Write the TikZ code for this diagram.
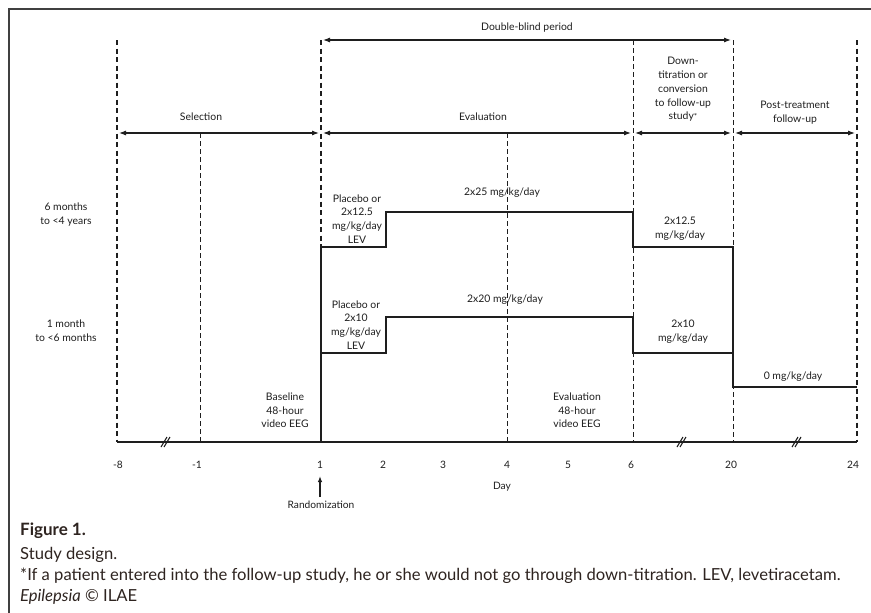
\documentclass[tikz,border=0pt]{standalone}
\usepackage{fontspec}
\setmainfont{Lato}
\usetikzlibrary{arrows.meta}
\definecolor{ink}{HTML}{1E1E1E}
\definecolor{capink}{HTML}{2E2420}
\begin{document}
\begin{tikzpicture}[x=1pt,y=-1pt,
  lbl/.style={font=\fontsize{10.4}{13.7}\selectfont, align=center, inner sep=0pt, text=ink},
  tick/.style={font=\fontsize{10.2}{12}\selectfont, inner sep=0pt, text=ink},
  captxt/.style={font=\fontsize{16.6}{19}\selectfont, anchor=west, inner sep=0pt, text=capink},
  thickdash/.style={draw=ink, line width=1.7pt, dash pattern=on 5pt off 3.5pt},
  thindash/.style={draw=ink, line width=1pt, dash pattern=on 4.5pt off 3.5pt},
  dose/.style={draw=ink, line width=1.4pt},
  spanarrow/.style={draw=ink, line width=1.1pt, {Latex[length=7pt,width=5pt]}-{Latex[length=7pt,width=5pt]}},
  brk/.style={draw=ink, line width=1.1pt}]
\useasboundingbox (0,0) rectangle (871,613);
\fill[white] (0,0) rectangle (871,613);
% frame
\draw[draw=ink!85, line width=2.2pt] (9,613) -- (9,9) -- (871,9);

% grid coordinates
\coordinate (m8t) at (117,40);  \coordinate (m8b) at (117,442);
\coordinate (m1t) at (200,133); \coordinate (m1b) at (200,442);
\coordinate (d1t) at (321,40);  \coordinate (d1s) at (321,247); \coordinate (d1b) at (321,442);
\coordinate (d4t) at (507,133); \coordinate (d4b) at (507,442);
\coordinate (d6t) at (633,40);  \coordinate (d6b) at (633,442);
\coordinate (d20t) at (733,40); \coordinate (d20b) at (733,442);
\coordinate (d24t) at (857,40); \coordinate (d24b) at (857,442);

% vertical dashed lines
\draw[thickdash] (m8t) -- (m8b);
\draw[thindash] (m1t) -- (m1b);
\draw[thickdash] (d1t) -- (d1s);
\draw[thindash] (d4t) -- (d4b);
\draw[thindash] (d6t) -- (d6b);
\draw[thindash] (d20t) -- (d20b);
\draw[thickdash] (d24t) -- (d24b);

% period arrows
\coordinate (a1) at (323,40); \coordinate (a2) at (731,40);
\draw[spanarrow] (a1) -- (a2);
\coordinate (s0) at (119,133); \coordinate (s1) at (319,133);
\coordinate (s2) at (323,133); \coordinate (s3) at (631,133);
\coordinate (s4) at (635,133); \coordinate (s5) at (731,133);
\coordinate (s6) at (735,133); \coordinate (s7) at (855,133);
\draw[spanarrow] (s0) -- (s1);
\draw[spanarrow] (s2) -- (s3);
\draw[spanarrow] (s4) -- (s5);
\draw[spanarrow] (s6) -- (s7);

% period labels
\node[lbl] (dbl) at (527,28) {Double-blind period};
\node[lbl] (sel) at (201,117) {Selection};
\node[lbl] (evl) at (483,117) {Evaluation};
\node[lbl] (down) at (683,89.5) {Down-\\titration or\\conversion\\to follow-up\\study{\fontsize{8}{8}\selectfont*}};
\node[lbl] (post) at (795,112.5) {Post-treatment\\follow-up};

% age groups
\node[lbl] (age1) at (66,214.5) {6 months\\to <4 years};
\node[lbl] (age2) at (66,330.5) {1 month\\to <6 months};

% dose steps
\draw[dose, line width=1.7pt] (d1s) -- (d1b);
\draw[dose] (d1s) -- (386,247) -- (386,212) -- (633,212) -- (633,247) -- (733,247) -- (733,387) -- (857,387);
\draw[dose] (321,353) -- (386,353) -- (386,317) -- (633,317) -- (633,353) -- (733,353);

% dose labels
\node[lbl] (plc1) at (357,219) {Placebo or\\2x12.5\\mg/kg/day\\LEV};
\node[lbl] (plc2) at (356,325) {Placebo or\\2x10\\mg/kg/day\\LEV};
\node[lbl] (d25) at (502,193) {2x25 mg/kg/day};
\node[lbl] (d20) at (505,300) {2x20 mg/kg/day};
\node[lbl] (d125) at (680,229) {2x12.5\\mg/kg/day};
\node[lbl] (d10) at (683,331.5) {2x10\\mg/kg/day};
\node[lbl] (d0) at (793,377) {0 mg/kg/day};
\node[lbl] (base) at (285,410.5) {Baseline\\48-hour\\video EEG};
\node[lbl] (evEEG) at (577,410.5) {Evaluation\\48-hour\\video EEG};

% axis
\draw[draw=ink, line width=1.3pt] (m8b) -- (d24b);
\foreach \bx in {166,682,797}{
  \draw[brk] (\bx-5,447) -- (\bx+1,437);
  \draw[brk] (\bx-2,447) -- (\bx+4,437);
}

% tick labels
\node[tick] (t1) at (118,465) {-8};
\node[tick] (t2) at (197,465) {-1};
\node[tick] (t3) at (320,465) {1};
\node[tick] (t4) at (383,465) {2};
\node[tick] (t5) at (443,465) {3};
\node[tick] (t6) at (507,465) {4};
\node[tick] (t7) at (568,465) {5};
\node[tick] (t8) at (631,465) {6};
\node[tick] (t9) at (731,465) {20};
\node[tick] (t10) at (853,465) {24};
\node[tick] (day) at (502,487) {Day};

% randomization
\node[tick] (rand) at (321,505) {Randomization};
\coordinate (rtip) at (320,476);
\coordinate (rbase) at (320,497);
\draw[draw=ink, line width=1.3pt, -{Latex[length=6pt,width=4.5pt]}] (rbase) -- (rtip);

% caption
\node[captxt, font=\fontsize{17}{19}\selectfont\bfseries] (fig) at (20,531) {Figure 1.};
\node[captxt] (sd) at (20,555) {Study design.};
\node[captxt] (fn) at (20,576) {*If a patient entered into the follow-up study, he or she would not go through down-titration. LEV, levetiracetam.};
\node[captxt] (ep) at (20,597) {\textit{Epilepsia} © ILAE};
\end{tikzpicture}
\end{document}
